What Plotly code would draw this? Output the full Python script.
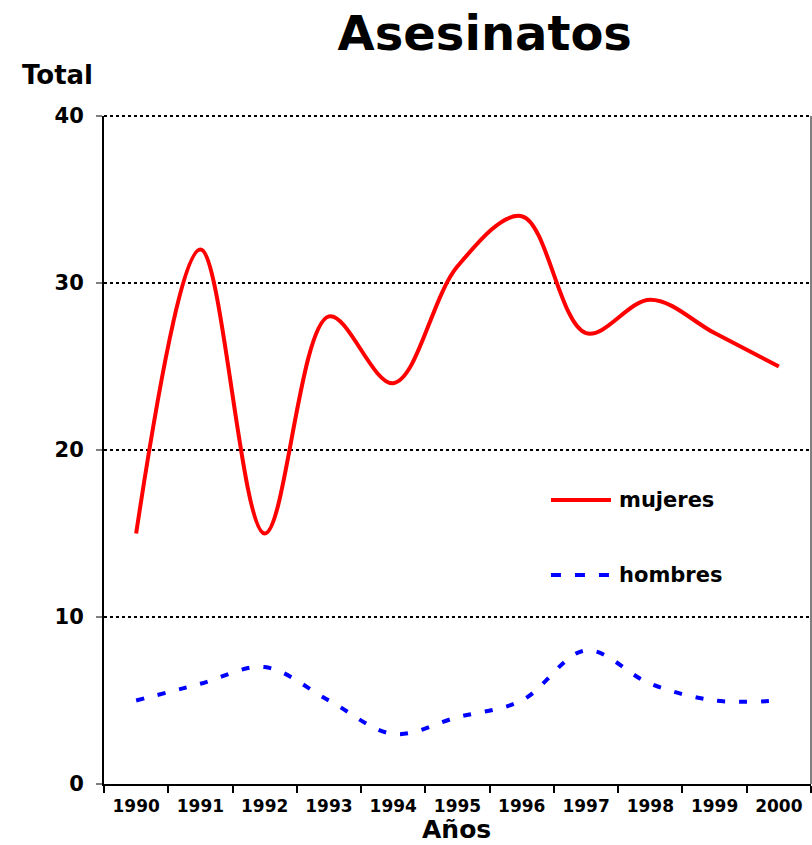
import plotly.graph_objects as go

# Annual totals, 1990-2000
years = ["1990", "1991", "1992", "1993", "1994", "1995",
         "1996", "1997", "1998", "1999", "2000"]
mujeres = [15, 32, 15, 28, 24, 31, 34, 27, 29, 27, 25]
hombres = [5, 6, 7, 5, 3, 4, 5, 8, 6, 5, 5]

FONT = "DejaVu Sans"
BOLD = dict(family=FONT, color="black", weight="bold")

fig = go.Figure()
fig.add_trace(go.Scatter(
    x=years, y=mujeres, name="mujeres", mode="lines",
    line=dict(color="#ff0000", width=4, shape="spline", smoothing=1.0),
))
fig.add_trace(go.Scatter(
    x=years, y=hombres, name="hombres", mode="lines",
    line=dict(color="#0000ff", width=4, shape="spline", smoothing=1.0,
              dash="8px,14px"),
))

# Hand-drawn legend keys placed inside the plot area
legend_items = [
    ("mujeres", dict(color="#ff0000", width=4), 0.4251),
    ("hombres", dict(color="#0000ff", width=4, dash="10px,14px"), 0.3129),
]
for label, style, ypos in legend_items:
    fig.add_shape(type="line", xref="paper", yref="paper",
                  x0=0.6322, x1=0.7171, y0=ypos, y1=ypos, line=style)
    fig.add_annotation(text=label, xref="paper", yref="paper",
                       x=0.7256, y=ypos, xanchor="left", yanchor="middle",
                       showarrow=False, font=dict(size=21, **BOLD))

# Right frame edge of the plot area and dotted top gridline
fig.add_shape(type="line", xref="paper", yref="paper",
              x0=1, x1=1, y0=0, y1=1, line=dict(color="#808080", width=2))
fig.add_shape(type="line", xref="paper", yref="paper",
              x0=0, x1=1, y0=1, y1=1,
              line=dict(color="black", width=2, dash="dot"))

fig.add_annotation(text="Total", xref="paper", yref="paper",
                   x=-0.1188, y=1.061, xanchor="left", yanchor="middle",
                   showarrow=False, font=dict(size=26, **BOLD))
fig.add_annotation(text="Años", xref="paper", yref="paper",
                   x=0.498, y=-0.0675, xanchor="center", yanchor="middle",
                   showarrow=False, font=dict(size=25, **BOLD))

fig.update_layout(
    width=812, height=845,
    margin=dict(l=104, r=1, t=116, b=61),
    paper_bgcolor="white", plot_bgcolor="white",
    showlegend=False,
    title=dict(text="Asesinatos", x=0.597, xref="container", xanchor="center",
               y=1 - 33 / 845, yref="container", yanchor="middle",
               font=dict(size=48, **BOLD)),
)
fig.update_xaxes(
    type="category", range=[-0.5, 10.5],
    tickson="boundaries", ticks="outside", ticklen=7, tickwidth=2,
    tickcolor="black", showline=True, linecolor="black", linewidth=2,
    showgrid=False, tickfont=dict(size=17, **BOLD), ticklabelstandoff=6,
)
fig.update_yaxes(
    range=[0, 40], dtick=10, ticks="outside", ticklen=6, tickwidth=2,
    tickcolor="#808080", showline=True, linecolor="black", linewidth=2,
    showgrid=True, gridcolor="black", gridwidth=2, griddash="dot",
    zeroline=False, tickfont=dict(size=21, **BOLD), ticklabelstandoff=8,
)

fig.write_html("out.html")
